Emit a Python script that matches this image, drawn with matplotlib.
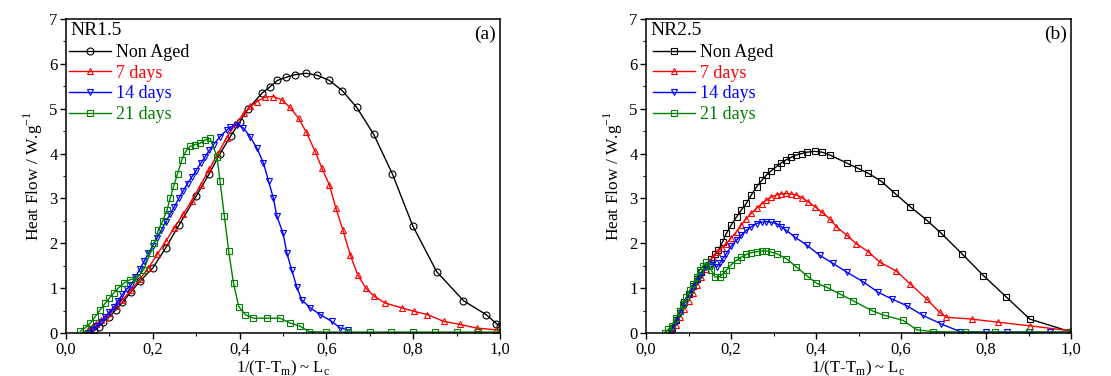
import numpy as np
import matplotlib
matplotlib.use('Agg')
from matplotlib import pyplot as plt
from matplotlib.ticker import MultipleLocator, FuncFormatter

plt.rcParams['font.family'] = ['Liberation Serif', 'DejaVu Serif']
plt.rcParams['mathtext.fontset'] = 'custom'
plt.rcParams['mathtext.rm'] = 'Liberation Serif'

# ---- panel (a) NR1.5 ----
a_na_x = [0.055, 0.065, 0.075, 0.085, 0.10, 0.115, 0.13, 0.15, 0.17, 0.20, 0.23, 0.26, 0.30,
          0.33, 0.355, 0.38, 0.40, 0.42, 0.452, 0.469, 0.487, 0.507, 0.528, 0.553, 0.578,
          0.607, 0.637, 0.670, 0.709, 0.752, 0.799, 0.854, 0.916, 0.968, 0.992, 1.0]
a_na_y = [0.0, 0.06, 0.14, 0.24, 0.36, 0.52, 0.68, 0.92, 1.15, 1.45, 1.9, 2.4, 3.05,
          3.55, 4.0, 4.4, 4.7, 5.0, 5.35, 5.48, 5.63, 5.70, 5.76, 5.79, 5.75,
          5.63, 5.40, 5.03, 4.43, 3.55, 2.39, 1.37, 0.72, 0.41, 0.21, 0.15]
a_7_x = [0.04, 0.05, 0.06, 0.07, 0.08, 0.09, 0.10, 0.115, 0.13, 0.15, 0.17, 0.19, 0.21, 0.23,
         0.25, 0.27, 0.29, 0.31, 0.33, 0.35, 0.37, 0.39, 0.41, 0.425, 0.440, 0.459, 0.478,
         0.497, 0.516, 0.536, 0.553, 0.574, 0.590, 0.607, 0.622, 0.638, 0.655, 0.672, 0.691,
         0.710, 0.735, 0.774, 0.803, 0.833, 0.870, 0.908, 0.946, 0.992]
a_7_y = [0.0, 0.06, 0.13, 0.2, 0.28, 0.36, 0.44, 0.6, 0.74, 0.95, 1.2, 1.45, 1.75, 2.05,
         2.35, 2.65, 2.95, 3.3, 3.65, 4.0, 4.35, 4.65, 4.9, 5.05, 5.16, 5.26, 5.27,
         5.20, 5.03, 4.79, 4.49, 4.05, 3.67, 3.30, 2.78, 2.30, 1.74, 1.30, 1.0,
         0.82, 0.67, 0.56, 0.48, 0.41, 0.26, 0.19, 0.11, 0.07]
a_14_x = [0.05, 0.06, 0.07, 0.08, 0.09, 0.10, 0.11, 0.12, 0.13, 0.14, 0.15, 0.16, 0.17, 0.18,
          0.19, 0.20, 0.21, 0.22, 0.23, 0.24, 0.25, 0.26, 0.27, 0.28, 0.29, 0.30, 0.31, 0.32,
          0.33, 0.34, 0.355, 0.37, 0.378, 0.394, 0.409, 0.424, 0.440, 0.455, 0.467, 0.478,
          0.486, 0.500, 0.509, 0.520, 0.532, 0.543, 0.563, 0.586, 0.612, 0.632, 0.651]
a_14_y = [0.0, 0.07, 0.15, 0.25, 0.35, 0.46, 0.58, 0.72, 0.86, 0.98, 1.07, 1.25, 1.42, 1.6,
          1.78, 1.95, 2.12, 2.3, 2.48, 2.65, 2.82, 3.0, 3.17, 3.33, 3.48, 3.62, 3.78, 3.92,
          4.07, 4.2, 4.38, 4.52, 4.59, 4.64, 4.57, 4.38, 4.12, 3.79, 3.38, 3.0,
          2.60, 2.23, 1.78, 1.41, 1.02, 0.74, 0.56, 0.41, 0.26, 0.11, 0.07]
a_21_x = [0.033, 0.045, 0.056, 0.067, 0.079, 0.09, 0.10, 0.110, 0.12, 0.133, 0.148, 0.163,
          0.179, 0.194, 0.203, 0.213, 0.223, 0.233, 0.24, 0.248, 0.257, 0.267, 0.276, 0.286,
          0.297, 0.309, 0.32, 0.332, 0.348, 0.355, 0.365, 0.375, 0.386, 0.398, 0.413, 0.432,
          0.463, 0.493, 0.517, 0.540, 0.56, 0.60, 0.65, 0.70, 0.75, 0.80, 0.85, 0.90, 0.95, 1.0]
a_21_y = [0.04, 0.12, 0.22, 0.36, 0.52, 0.66, 0.78, 0.89, 1.0, 1.11, 1.19, 1.22,
          1.41, 1.78, 2.0, 2.30, 2.5, 2.75, 3.0, 3.27, 3.55, 3.86, 4.05, 4.16,
          4.2, 4.23, 4.3, 4.34, 3.93, 3.38, 2.60, 1.82, 1.11, 0.59, 0.41, 0.33,
          0.33, 0.33, 0.22, 0.15, 0.03, 0.02, 0.02, 0.02, 0.02, 0.02, 0.02, 0.02, 0.02, 0.02]

# ---- panel (b) NR2.5 ----
b_na_x = [0.055, 0.062, 0.07, 0.08, 0.09, 0.10, 0.11, 0.12, 0.13, 0.14, 0.154, 0.162, 0.170,
          0.18, 0.189, 0.20, 0.213, 0.224, 0.236, 0.248, 0.260, 0.272, 0.283, 0.295, 0.307,
          0.318, 0.330, 0.342, 0.354, 0.366, 0.378, 0.397, 0.415, 0.432, 0.472, 0.499, 0.523,
          0.554, 0.586, 0.621, 0.660, 0.695, 0.743, 0.794, 0.848, 0.903, 0.998]
b_na_y = [0.0, 0.12, 0.3, 0.5, 0.7, 0.88, 1.05, 1.2, 1.35, 1.5, 1.66, 1.75, 1.84,
          2.03, 2.22, 2.4, 2.59, 2.74, 2.89, 3.08, 3.26, 3.4, 3.52, 3.62, 3.71,
          3.79, 3.86, 3.92, 3.97, 4.0, 4.03, 4.05, 4.03, 3.97, 3.79, 3.67, 3.56,
          3.38, 3.11, 2.82, 2.52, 2.22, 1.77, 1.28, 0.80, 0.31, 0.03]
b_7_x = [0.06, 0.07, 0.08, 0.09, 0.10, 0.11, 0.12, 0.13, 0.14, 0.15, 0.158, 0.166, 0.178,
         0.189, 0.20, 0.213, 0.224, 0.236, 0.248, 0.260, 0.272, 0.283, 0.295, 0.307, 0.318,
         0.330, 0.342, 0.354, 0.368, 0.381, 0.397, 0.413, 0.432, 0.448, 0.472, 0.495, 0.523,
         0.550, 0.589, 0.621, 0.660, 0.691, 0.707, 0.766, 0.829, 0.903, 0.998]
b_7_y = [0.0, 0.18, 0.36, 0.54, 0.72, 0.9, 1.08, 1.25, 1.42, 1.6, 1.70, 1.81, 1.9,
         1.99, 2.12, 2.26, 2.41, 2.55, 2.67, 2.78, 2.88, 2.96, 3.03, 3.08, 3.1,
         3.11, 3.1, 3.08, 3.01, 2.93, 2.82, 2.70, 2.55, 2.37, 2.18, 1.99, 1.81,
         1.58, 1.38, 1.10, 0.76, 0.46, 0.35, 0.31, 0.24, 0.16, 0.05]
b_14_x = [0.06, 0.07, 0.08, 0.09, 0.10, 0.11, 0.12, 0.13, 0.142, 0.15, 0.158, 0.166, 0.173,
          0.181, 0.189, 0.20, 0.213, 0.224, 0.236, 0.248, 0.260, 0.272, 0.283, 0.295, 0.307,
          0.318, 0.330, 0.350, 0.378, 0.409, 0.440, 0.472, 0.511, 0.546, 0.578, 0.613, 0.652,
          0.695, 0.739, 0.80, 0.85, 0.90, 0.95, 1.0]
b_14_y = [0.05, 0.25, 0.45, 0.65, 0.85, 1.0, 1.15, 1.3, 1.47, 1.52, 1.55, 1.47, 1.55,
          1.66, 1.77, 1.93, 2.07, 2.18, 2.29, 2.37, 2.44, 2.47, 2.48, 2.47, 2.44,
          2.37, 2.29, 2.14, 1.96, 1.73, 1.55, 1.36, 1.14, 0.91, 0.76, 0.61, 0.39,
          0.20, 0.03, 0.02, 0.02, 0.02, 0.02, 0.02]
b_21_x = [0.044, 0.052, 0.060, 0.07, 0.079, 0.087, 0.095, 0.103, 0.111, 0.119, 0.126, 0.134,
          0.142, 0.148, 0.154, 0.162, 0.173, 0.181, 0.189, 0.20, 0.213, 0.224, 0.236, 0.248,
          0.260, 0.272, 0.283, 0.295, 0.307, 0.330, 0.354, 0.378, 0.401, 0.425, 0.456, 0.487,
          0.531, 0.562, 0.605, 0.637, 0.676, 0.75, 0.82, 0.90, 1.0]
b_21_y = [0.01, 0.08, 0.16, 0.33, 0.50, 0.65, 0.80, 0.95, 1.10, 1.25, 1.40, 1.5,
          1.58, 1.5, 1.40, 1.25, 1.25, 1.32, 1.40, 1.52, 1.62, 1.69, 1.75, 1.79,
          1.81, 1.83, 1.83, 1.8, 1.77, 1.66, 1.47, 1.28, 1.11, 1.02, 0.87, 0.72,
          0.50, 0.39, 0.28, 0.07, 0.03, 0.02, 0.02, 0.02, 0.02]

labels = ['Non Aged', '7 days', '14 days', '21 days']
colors = ['black', '#ff0000', '#0000ff', '#008000']

panels = [
    dict(rect=[0.0594, 0.1144, 0.3906, 0.835], name='NR1.5', tag='(a)', lx=-0.018,
         series=[(a_na_x, a_na_y, 'o'), (a_7_x, a_7_y, '^'), (a_14_x, a_14_y, 'v'), (a_21_x, a_21_y, 's')]),
    dict(rect=[0.5815, 0.1144, 0.3825, 0.835], name='NR2.5', tag='(b)', lx=-0.008,
         series=[(b_na_x, b_na_y, 's'), (b_7_x, b_7_y, '^'), (b_14_x, b_14_y, 'v'), (b_21_x, b_21_y, 's')]),
]

fig = plt.figure(figsize=(11.11, 3.76), dpi=100)

comma = FuncFormatter(lambda v, p: ('%.1f' % v).replace('.', ','))

for pn in panels:
    ax = fig.add_axes(pn['rect'])
    for (xs, ys, mk), lab, c in zip(pn['series'], labels, colors):
        ax.plot(xs, ys, '-', color=c, lw=1.0, marker=mk, ms=5, mfc='none', mec=c,
                mew=0.8, label=lab)
    ax.set_xlim(0, 1.0)
    ax.set_ylim(0, 7)
    ax.xaxis.set_major_locator(MultipleLocator(0.2))
    ax.xaxis.set_minor_locator(MultipleLocator(0.1))
    ax.yaxis.set_major_locator(MultipleLocator(1))
    ax.yaxis.set_minor_locator(MultipleLocator(0.5))
    ax.xaxis.set_major_formatter(comma)
    ax.tick_params(which='both', direction='out', top=False, right=False, labelsize=12)
    ax.tick_params(which='major', length=4, width=1, pad=2)
    ax.tick_params(which='minor', length=2.5, width=0.8)
    for s in ax.spines.values():
        s.set_linewidth(1.1)
    ax.set_xlabel(r'1/(T-T$_\mathregular{m}$) ~ L$_\mathregular{c}$', fontsize=12, labelpad=1)
    ax.set_ylabel(r'Heat Flow / W.g$^\mathregular{-1}$', fontsize=12.5, labelpad=3)
    ax.text(0.01, 0.99, pn['name'], transform=ax.transAxes, ha='left', va='top', fontsize=14)
    ax.text(0.99, 0.98, pn['tag'], transform=ax.transAxes, ha='right', va='top', fontsize=14)
    leg = ax.legend(loc='upper left', bbox_to_anchor=(pn['lx'], 0.955), frameon=False,
                    fontsize=13, handlelength=2.3, handletextpad=0.3, labelspacing=0.2,
                    borderaxespad=0.2)
    for t, c in zip(leg.get_texts(), colors):
        t.set_color(c)

fig.savefig('out.png', dpi=100)
